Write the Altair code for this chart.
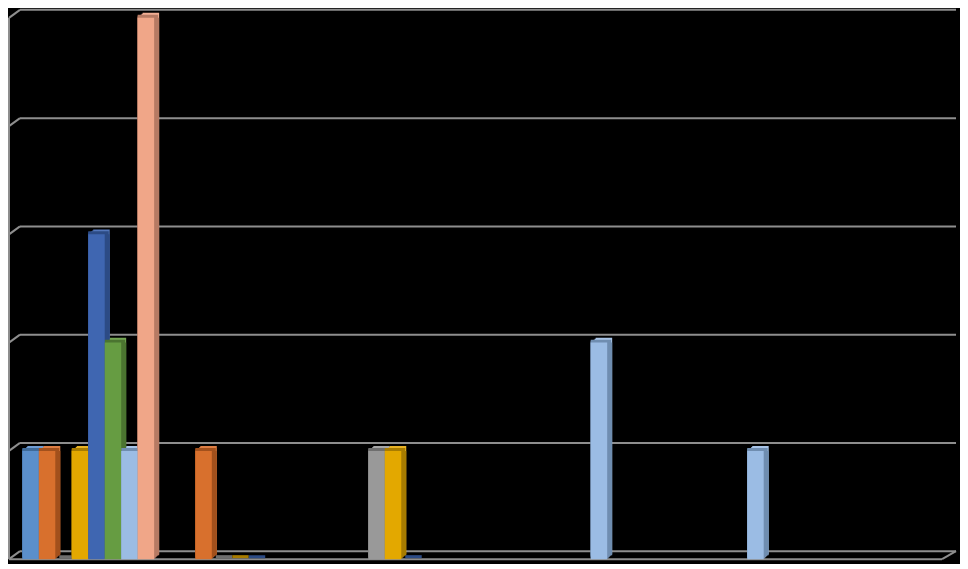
import altair as alt
import pandas as pd

categories = ["Category 1", "Category 2", "Category 3", "Category 4", "Category 5", "Category 6"]
series = ["Series 1", "Series 2", "Series 3", "Series 4", "Series 5", "Series 6", "Series 7", "Series 8"]

# values per series, one entry per category (None = blank cell)
s1 = [1, None, None, None, None, None]
s2 = [1, 1, None, None, None, None]
s3 = [0, 0, 1, None, None, None]
s4 = [1, 0, 1, None, None, None]
s5 = [3, 0, 0, None, None, None]
s6 = [2, None, None, None, None, None]
s7 = [1, None, None, 2, 1, None]
s8 = [5, None, None, None, None, None]
series_values = [s1, s2, s3, s4, s5, s6, s7, s8]

y_ticks = [0, 1, 2, 3, 4, 5]

front_colors = ["#5B8FCB", "#D8702D", "#999999", "#E3A800", "#3F66B1", "#669C42", "#9BBCE4", "#F0A688"]
cap_colors = ["#6F9CD2", "#DD7E44", "#A6A6A6", "#E8B225", "#5277BB", "#76A655", "#A8C4E7", "#F2AF94"]
side_colors = ["#3F6A99", "#A2501C", "#6E6E6E", "#A87C00", "#2C4B85", "#4B7430", "#6F8DB0", "#B67A63"]
GRID = "#8E8E8E"

rows = []
for si, (s, vals) in enumerate(zip(series, series_values)):
    for ci, c in enumerate(categories):
        v = vals[ci]
        if v is not None:
            rows.append({"category": c, "series": s, "ci": ci, "si": si, "value": v})
df = pd.DataFrame(rows)

xscale = alt.Scale(domain=[0, 9.5 * len(categories)], range=[2, 944], nice=False, zero=False)
yscale = alt.Scale(domain=[min(y_ticks), max(y_ticks)], range=[552, 9], nice=False, zero=False)

base = alt.Chart(df).transform_calculate(
    x0="datum.ci * 9.5 + 0.75 + datum.si",
    x1="datum.ci * 9.5 + 1.75 + datum.si",
    base="0",
)

X = alt.X("x0:Q", scale=xscale, axis=None)
X2 = alt.X2("x1:Q")
Y = alt.Y("value:Q", scale=yscale, axis=None)
Y2 = alt.Y2("base:Q")


def col(rng):
    return alt.Color("series:N", scale=alt.Scale(domain=series, range=rng), legend=None)


nonzero = base.transform_filter("datum.value > 0")
zero = base.transform_filter("datum.value == 0")

caps = [
    nonzero.mark_rect(xOffset=d, x2Offset=d, yOffset=-d, y2Offset=-d).encode(
        x=X, x2=X2, y=Y, y2=Y2, color=col(cap_colors))
    for d in [5, 4, 3, 2, 1]
]
side = nonzero.mark_rect(xOffset=5, x2Offset=5, y2Offset=-4).encode(
    x=X, x2=X2, y=Y, y2=Y2, color=col(side_colors))
side_steps = [
    nonzero.mark_rect(x2Offset=d, yOffset=-d + 1, y2Offset=-d).encode(
        x=X, x2=X2, y=Y, y2=Y2, color=col(side_colors))
    for d in [1, 2, 3, 4]
]
front = nonzero.mark_rect().encode(
    x=X, x2=X2, y=Y, y2=Y2, color=col(front_colors))
sliver = zero.mark_rect(xOffset=4, x2Offset=4, yOffset=-1, y2Offset=-4).encode(
    x=X, x2=X2, y=alt.Y("base:Q", scale=yscale, axis=None), y2=Y2, color=col(side_colors))

grid = pd.DataFrame({"val": y_ticks})
GY = alt.Y("val:Q", scale=yscale, axis=None)

grid_back = alt.Chart(grid).mark_rule(color=GRID, strokeWidth=2, yOffset=-8).encode(
    y=GY, x=alt.value(12), x2=alt.value(951))
grid_diag = alt.Chart(grid).mark_rule(color=GRID, strokeWidth=2, y2Offset=-8).encode(
    y=GY, y2=alt.Y2("val:Q"), x=alt.value(1), x2=alt.value(12))
wall = alt.Chart(pd.DataFrame({"lo": [min(y_ticks)], "hi": [max(y_ticks)]})).mark_rule(
    color=GRID, strokeWidth=2).encode(
    y=alt.Y("lo:Q", scale=yscale, axis=None), y2=alt.Y2("hi:Q"), x=alt.value(1))
floor_front = alt.Chart(grid).transform_filter("datum.val == 0").mark_rule(
    color=GRID, strokeWidth=2).encode(y=GY, x=alt.value(1), x2=alt.value(937))
floor_right = alt.Chart(grid).transform_filter("datum.val == 0").mark_rule(
    color=GRID, strokeWidth=2, y2Offset=-8).encode(
    y=GY, y2=alt.Y2("val:Q"), x=alt.value(937), x2=alt.value(951))

chart = alt.layer(
    grid_back, grid_diag, wall, floor_front, floor_right, sliver, *caps, side, *side_steps, front
).resolve_scale(color="independent").properties(
    width=955, height=556, autosize=alt.AutoSizeParams(type="none"), padding=0,
    background="#000000",
).configure_view(stroke=None)

chart.save("out.html", embed_options={"renderer": "svg", "actions": False})
